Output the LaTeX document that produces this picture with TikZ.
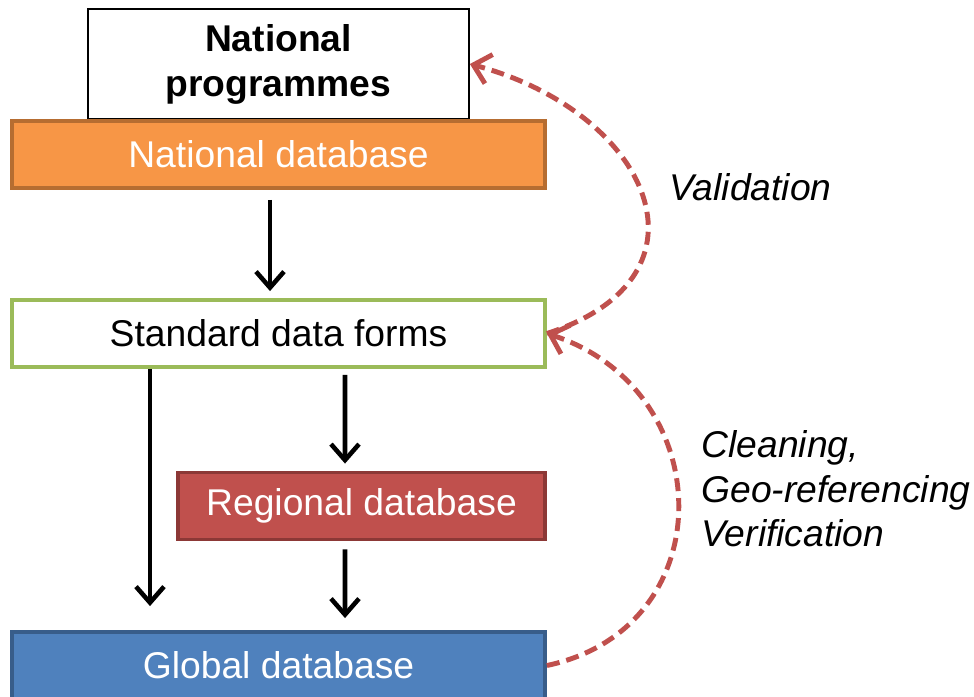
\documentclass[tikz,border=0pt]{standalone}
\usepackage{fontspec}
\setmainfont{Liberation Sans}
\usetikzlibrary{arrows.meta}

\definecolor{natfill}{HTML}{F79646}
\definecolor{natline}{HTML}{B66D31}
\definecolor{formline}{HTML}{9BBB59}
\definecolor{regfill}{HTML}{C0504D}
\definecolor{regline}{HTML}{8C3836}
\definecolor{globfill}{HTML}{4F81BD}
\definecolor{globline}{HTML}{385D8A}
\definecolor{loopred}{HTML}{C0504D}

\tikzset{
	dbbox/.style={draw, line width=1.1pt, inner sep=0pt, minimum height=0.67cm, text=white},
	flow/.style={line width=1.3pt, -{Straight Barb[length=0.16cm,width=0.28cm]}},
	loop/.style={loopred, line width=1.4pt, dash pattern=on 0.13cm off 0.07cm,
		-{Straight Barb[length=0.16cm,width=0.30cm]}},
	remark/.style={font=\fontsize{10.6}{12.7}\selectfont\itshape, align=left, anchor=west}
}

\begin{document}
\begin{tikzpicture}[font=\fontsize{10.6}{12.7}\selectfont]
			\useasboundingbox (0,0) rectangle (9.74,-6.96);
			% boxes
			\node[draw, line width=0.5pt, minimum width=3.81cm, minimum height=1.10cm, align=center,
				font=\fontsize{10.6}{12.8}\selectfont\bfseries] (prog) at (2.785,-0.64) {National\\programmes};
			\node[dbbox, fill=natfill, draw=natline, minimum width=5.33cm] (natdb) at (2.785,-1.545) {National database};
			\node[dbbox, draw=formline, text=black, minimum width=5.33cm] (forms) at (2.785,-3.335) {Standard data forms};
			\node[dbbox, fill=regfill, draw=regline, minimum width=3.67cm] (regdb) at (3.615,-5.06) {Regional database};
			\node[dbbox, fill=globfill, draw=globline, minimum width=5.33cm] (globdb) at (2.785,-6.655) {Global database};
			% data flow
			\draw[flow] ([xshift=-0.085cm,yshift=-0.1cm]natdb.south) -- ([xshift=-0.085cm,yshift=0.07cm]forms.north);
			\draw[flow] ([xshift=-1.285cm]forms.south) -- ([xshift=-1.285cm,yshift=0.24cm]globdb.north);
			\draw[flow] ([xshift=0.665cm,yshift=-0.06cm]forms.south) -- ([xshift=-0.165cm,yshift=0.07cm]regdb.north);
			\draw[flow] ([xshift=-0.165cm,yshift=-0.08cm]regdb.south) -- ([xshift=0.665cm,yshift=0.12cm]globdb.north);
			% feedback loops
			\draw[loop] (forms.east) to[out=18, in=-15, looseness=1.7] (prog.east);
			\draw[loop] (globdb.east) to[out=12, in=-18, looseness=1.4] (forms.east);
			\node[remark] (valid) at (6.57,-1.87) {Validation};
			\node[remark] (clean) at (6.89,-4.89) {Cleaning,\\Geo-referencing\\Verification};
\end{tikzpicture}
\end{document}
